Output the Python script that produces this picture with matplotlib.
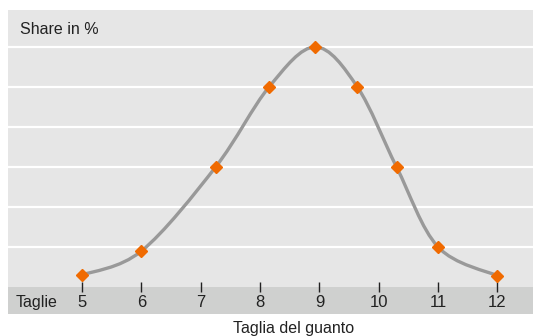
import numpy as np
import matplotlib
matplotlib.use('Agg')
import matplotlib.pyplot as plt
from matplotlib.path import Path
from matplotlib.patches import PathPatch, Rectangle

# Glove sizes and share values
sizes = [5, 6, 7.25, 8.15, 8.93, 9.64, 10.3, 11, 12]
share = [0.3, 0.9, 3.0, 5.0, 6.0, 5.0, 3.0, 1.0, 0.28]
tick_sizes = [5, 6, 7, 8, 9, 10, 11, 12]
tick_labels = ['5', '6', '7', '8', '9', '10', '11', '12']

plt.rcParams['font.family'] = ['Liberation Sans', 'DejaVu Sans']

W, H = 533, 336
fig = plt.figure(figsize=(W / 100, H / 100), dpi=100)
fig.patch.set_facecolor('white')

# bottom band with sizes (drawn under the axes)
band = Rectangle((8 / W, 1 - 314 / H), (W - 8) / W, 27 / H, transform=fig.transFigure,
                 facecolor='#cfd0cf', edgecolor='none', zorder=0)
fig.patches.append(band)

# plot panel: x 8..533 px, y 10..287 px
ax = fig.add_axes([8 / W, 1 - 287 / H, (W - 8) / W, 277 / H])
ax.set_zorder(1)
ax.set_facecolor('#e6e6e6')
ax.set_xlim(3.75, 12.6)
ax.set_ylim(0, 6.925)
for s in ax.spines.values():
    s.set_visible(False)

for g in range(1, 7):
    ax.axhline(g, color='white', lw=1.6, zorder=1)

# smooth curve through the points (Catmull-Rom as cubic Bezier segments)
pts = np.column_stack([sizes, share])
ext = np.vstack([pts[0], pts, pts[-1]])
verts = [tuple(pts[0])]
codes = [Path.MOVETO]
for i in range(1, len(ext) - 2):
    p0, p1, p2, p3 = ext[i - 1], ext[i], ext[i + 1], ext[i + 2]
    c1 = p1 + (p2 - p0) / 6
    c2 = p2 - (p3 - p1) / 6
    verts += [tuple(c1), tuple(c2), tuple(p2)]
    codes += [Path.CURVE4] * 3
ax.add_patch(PathPatch(Path(verts, codes), facecolor='none', edgecolor='#999999', lw=2.4, zorder=2))

ax.plot(sizes, share, linestyle='none', marker='D', ms=6.5, color='#f06a00', mec='#f06a00', zorder=3)

ax.set_yticks([])
ax.set_xticks(tick_sizes)
ax.set_xticklabels(tick_labels, fontsize=12, color='#222222')
ax.tick_params(axis='x', direction='inout', length=7, width=1, color='#222222', pad=2.5)

ax.text(20 / W, 1 - 29 / H, 'Share in %', transform=fig.transFigure, fontsize=11.5,
        color='#222222', va='center', ha='left')

fig.text(16 / W, 1 - 302 / H, 'Taglie', fontsize=11.5, color='#222222', va='center', ha='left')
fig.text(294 / W, 1 - 329 / H, 'Taglia del guanto', fontsize=11.5, color='#222222', va='center', ha='center')

fig.savefig('out.png', dpi=100)
